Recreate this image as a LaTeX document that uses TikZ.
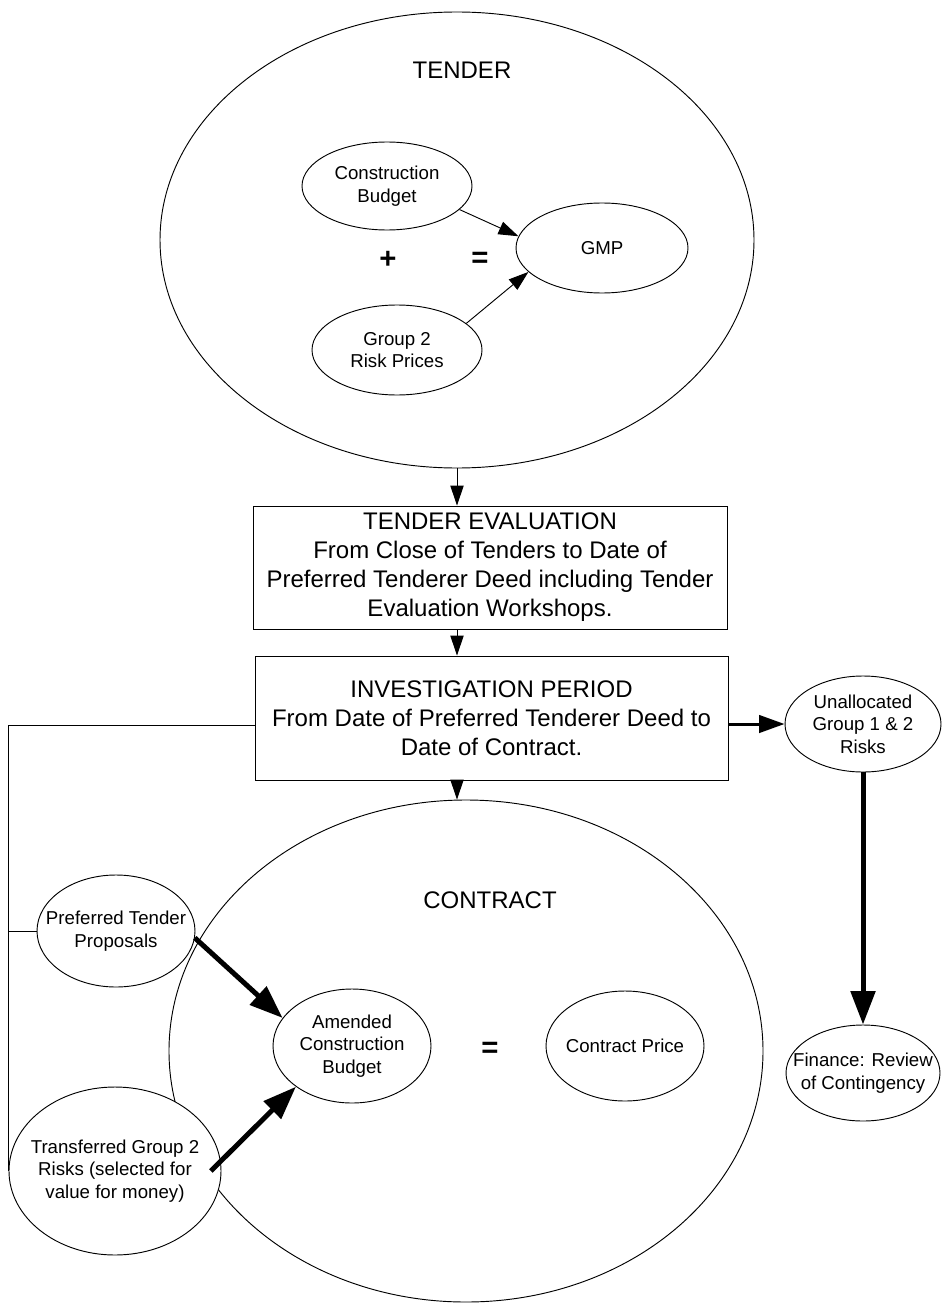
\documentclass[tikz,border=0pt]{standalone}
\usepackage{fontspec}
\setmainfont{Liberation Sans}
\usetikzlibrary{shapes.geometric,arrows.meta}

\begin{document}
\begin{tikzpicture}[x=0.75pt,y=-0.75pt,line width=0.7pt,
  blob/.style={ellipse,draw,fill=white,inner sep=0pt},
  txt/.style={align=center,font=\fontsize{14}{17}\selectfont},
  phase/.style={rectangle,draw,inner sep=0pt,align=center,font=\fontsize{18}{21.75}\selectfont},
  head/.style={font=\fontsize{18}{21.75}\selectfont},
  sign/.style={font=\fontsize{22}{26}\selectfont\bfseries},
  flow/.style={-{Triangle[length=15pt,width=10pt]}},
  side/.style={line width=2.25pt,-{Triangle[length=19pt,width=13pt]}},
  push/.style={line width=3.75pt,-{Triangle[length=25pt,width=18pt]}}]
\useasboundingbox (0,0) rectangle (942,1305);

% tender
\node[blob,minimum width=445.5pt,minimum height=342pt] (tender) at (457,240) {};
\node[head] (tendertitle) at (462,70) {TENDER};
\node[blob,minimum width=127.5pt,minimum height=66pt,label={[txt]center:Construction\\Budget}] (cb) at (387,186) {};
\node[blob,minimum width=129pt,minimum height=67.5pt,label={[txt]center:GMP}] (gmp) at (602,248) {};
\node[blob,minimum width=127.5pt,minimum height=67.5pt,label={[txt]center:Group 2\\Risk Prices}] (grp) at (397,350) {};
\node[sign] (plus) at (388,260) {+};
\node[sign] (eq) at (480,260) {=};
\draw[flow] (cb.-18) -- (gmp.172);
\draw[flow] (grp.21) -- (gmp.198);

% phases
\node[phase,minimum width=355.5pt,minimum height=92.25pt] (te) at (490,567.5)
  {TENDER EVALUATION\\From Close of Tenders to Date of\\Preferred Tenderer Deed including Tender\\Evaluation Workshops.};
\node[phase,minimum width=354.75pt,minimum height=93pt] (ip) at (491.5,718)
  {INVESTIGATION PERIOD\\From Date of Preferred Tenderer Deed to\\Date of Contract.};
\draw[flow] (tender.south) -- (tender.south |- te.north);
\draw[flow] (te.south -| tender.south) -- (ip.north -| tender.south);

% unallocated risks
\node[blob,minimum width=117pt,minimum height=72pt,label={[txt]center:Unallocated\\Group 1 \& 2\\Risks}] (unal) at (863,724) {};
\node[blob,minimum width=115.5pt,minimum height=72pt,label={[txt]center:Finance: Review\\of Contingency}] (fin) at (863,1073) {};
\draw[side] (unal.west -| ip.east) -- (unal.west);
\draw[push] (unal.south) -- (fin.north);

% contract
\node[blob,minimum width=445.5pt,minimum height=376.5pt] (contract) at (466,1051) {};
\node[head] (contracttitle) at (490,900) {CONTRACT};
\draw[flow] (ip.south -| tender.south) -- (tender.south |- contract.north);
\node[blob,minimum width=118.5pt,minimum height=85.5pt,label={[txt]center:Amended\\Construction\\Budget}] (acb) at (352,1046) {};
\node[sign] (eq2) at (490,1050) {=};
\node[blob,minimum width=118.5pt,minimum height=82.5pt,label={[txt]center:Contract Price}] (cp) at (625,1046) {};
\node[blob,minimum width=118.5pt,minimum height=84pt,label={[txt]center:Preferred Tender\\Proposals}] (ptp) at (116,931) {};
\node[blob,minimum width=159pt,minimum height=126pt,label={[txt]center:Transferred Group 2\\Risks (selected for\\value for money)}] (tgr) at (115,1171) {};

\coordinate (bus) at (8,725);
\draw (ip.west |- bus) -| (tgr.west);
\draw (ptp.west) -- (ptp.west -| tgr.west);
\draw[push] (ptp.-5) -- (acb.158);
\draw[push] ([xshift=-8pt]tgr.east) -- (acb.216);
\end{tikzpicture}
\end{document}
